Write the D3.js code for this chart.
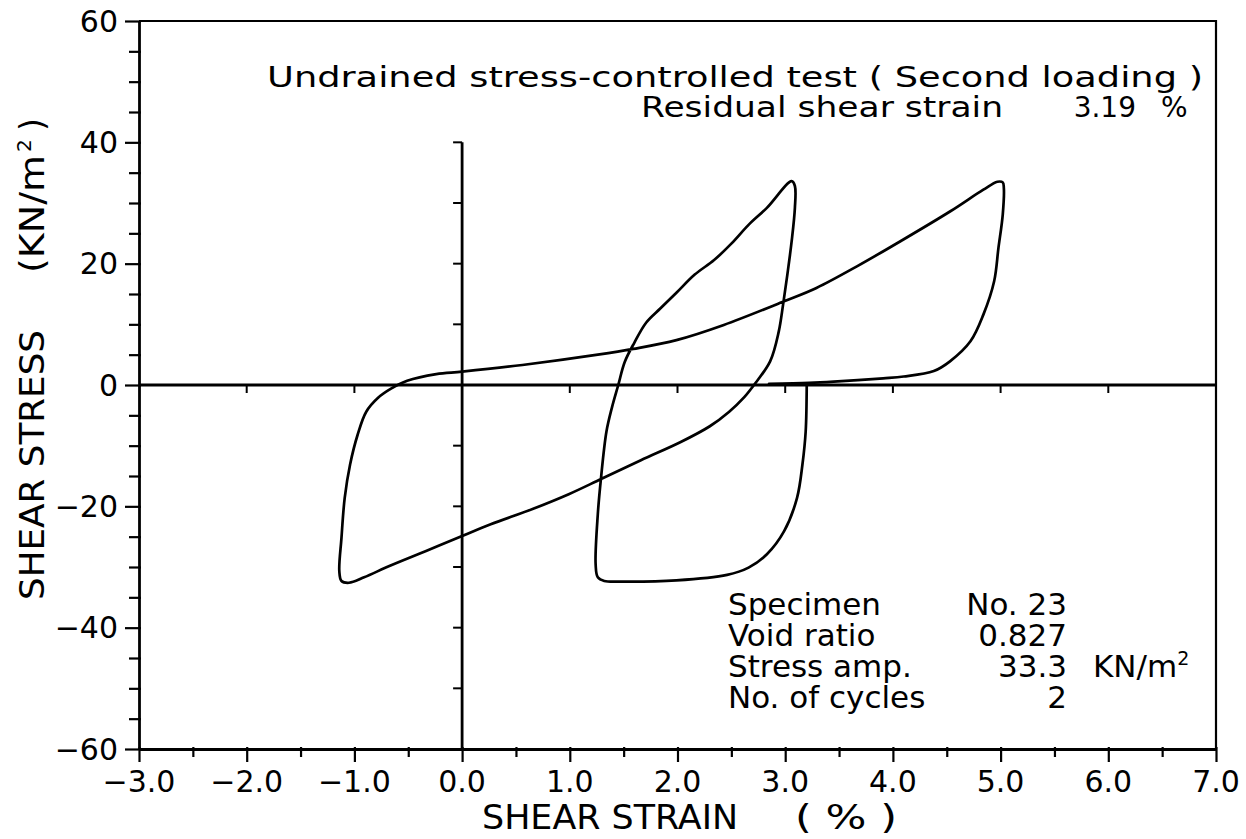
<!DOCTYPE html>
<html>
<head>
<meta charset="utf-8">
<script src="https://cdn.jsdelivr.net/npm/d3@7"></script>
<style>
  html, body { margin: 0; padding: 0; background: #fff; }
  svg { display: block; }
  text { font-family: "DejaVu Sans", "Liberation Sans", sans-serif; fill: #000; }
</style>
</head>
<body>
<svg id="chart" width="1246" height="839"></svg>
<script>
// Hysteresis record: shear strain (%) vs shear stress (kN/m2), in loading order.
// Starts at zero stress, loads negative, then two full swings, and returns to zero stress.
const strainPath = [
  3.20, 3.19, 3.16, 3.11, 2.99, 2.83, 2.66, 2.46, 1.99, 1.49, 1.32, 1.26, 1.24, 1.26, 1.29, 1.34,
  1.39, 1.45, 1.51, 1.60, 1.71, 1.84, 1.99, 2.16, 2.34, 2.50, 2.66, 2.83, 3.06, 3.09, 3.09, 3.06,
  3.02, 2.98, 2.94, 2.86, 2.71, 2.62, 2.48, 2.30, 2.03, 1.66, 1.29, 0.99, 0.66, 0.26, 0.00, -0.34,
  -0.67, -0.91, -1.05, -1.12, -1.14, -1.12, -1.09, -1.04, -0.97, -0.89, -0.78, -0.66, -0.51, -0.24,
  0.00, 0.56, 1.26, 1.59, 1.99, 2.43, 2.99, 3.29, 3.67, 4.07, 4.53, 4.84, 4.97, 5.02, 5.03, 5.02,
  4.98, 4.94, 4.84, 4.72, 4.53, 4.38, 4.10, 3.91, 3.45, 3.22, 2.85
];
const stressPath = [
  0.2, -7.7, -13.1, -18.6, -24.1, -27.9, -30.1, -31.3, -32.2, -32.4, -32.3, -31.7, -29.6, -21.3, -15.3, -7.7,
  -3.8, 0.0, 3.8, 7.0, 10.3, 12.6, 15.2, 18.2, 20.6, 23.3, 26.4, 29.2, 33.6, 32.8, 29.2, 23.7,
  18.2, 13.2, 8.8, 3.9, 0.0, -2.0, -4.4, -6.8, -9.4, -12.4, -15.5, -18.0, -20.4, -23.0, -24.9, -27.4,
  -29.8, -31.7, -32.6, -32.3, -30.7, -25.2, -18.6, -13.1, -8.2, -4.4, -2.1, -0.6, 0.7, 1.8,
  2.2, 3.3, 5.0, 5.95, 7.4, 9.9, 13.8, 16.0, 19.6, 23.7, 28.6, 32.2, 33.5, 33.4, 32.5, 28.1,
  22.6, 17.1, 11.6, 7.2, 3.9, 2.3, 1.4, 1.1, 0.55, 0.35, 0.2
];

const xDomain = [-3, 7];
const yDomain = [-60, 60];
const xTickLabels = [-3, -2, -1, 0, 1, 2, 3, 4, 5, 6, 7];
const yTickLabels = [-60, -40, -20, 0, 20, 40, 60];
const innerXTicks = [-2, -1, 1, 2, 3, 4, 5, 6];
const innerYTicks = [-50, -40, -30, -20, -10, 10, 20, 30, 40];
const innerYTop = 40;

const headerLine1 = "Undrained stress-controlled test  ( Second loading )";
const headerLine2 = "Residual shear strain";
const residualStrain = ["3.19", "%"];
const infoLabels = ["Specimen", "Void ratio", "Stress amp.", "No. of cycles"];
const infoValues = ["No. 23", "0.827", "33.3", "2"];
const xTitle = ["SHEAR  STRAIN", "(  %  )"];
const yTitle = ["SHEAR  STRESS", "(KN/m", "2", ")"];

const svg = d3.select("#chart");
const plot = { left: 139, right: 1216, top: 21, bottom: 749 };

const x = d3.scaleLinear().domain(xDomain).range([plot.left, plot.right]);
const y = d3.scaleLinear().domain(yDomain).range([plot.bottom, plot.top]);

const axisStroke = 2.8;

// frame: top and right edges
svg.append("path")
  .attr("d", `M${plot.left},${plot.top}H${plot.right}V${plot.bottom}`)
  .attr("fill", "none").attr("stroke", "#000").attr("stroke-width", 2.2);

// left axis with ticks every 5
const yAxis = d3.axisLeft(y)
  .tickValues(d3.range(-60, 61, 5))
  .tickSizeOuter(0)
  .tickFormat(() => "");
const gy = svg.append("g").attr("transform", `translate(${plot.left},0)`).call(yAxis);
gy.select(".domain").attr("stroke-width", axisStroke);
gy.selectAll(".tick line")
  .attr("stroke-width", 2.2)
  .attr("x1", 2)
  .attr("x2", d => (d % 20 === 0 ? -14 : -10));

// y tick labels
svg.append("g").selectAll("text").data(yTickLabels).join("text")
  .attr("x", plot.left - 21)
  .attr("y", d => y(d))
  .attr("dy", "0.36em")
  .attr("text-anchor", "end")
  .attr("font-size", 30)
  .text(d => d3.format("d")(d).replace("-", "\u2212"));

// bottom axis with ticks every 0.5
const xAxis = d3.axisBottom(x)
  .tickValues(d3.range(-3, 7.01, 0.5))
  .tickSizeOuter(0)
  .tickFormat(() => "");
const gx = svg.append("g").attr("transform", `translate(0,${plot.bottom})`).call(xAxis);
gx.select(".domain").attr("stroke-width", axisStroke);
gx.selectAll(".tick line")
  .attr("stroke-width", 2.2)
  .attr("y1", -2)
  .attr("y2", d => (Math.abs(d - Math.round(d)) < 1e-6 ? 13 : 8));

// x tick labels
svg.append("g").selectAll("text").data(xTickLabels).join("text")
  .attr("x", d => x(d))
  .attr("y", 792)
  .attr("text-anchor", "middle")
  .attr("font-size", 30)
  .text(d => d3.format(".1f")(d));

// inner zero axes
svg.append("line")
  .attr("x1", plot.left).attr("x2", plot.right)
  .attr("y1", y(0)).attr("y2", y(0))
  .attr("stroke", "#000").attr("stroke-width", axisStroke);
svg.append("g").selectAll("line").data(innerXTicks).join("line")
  .attr("x1", d => x(d)).attr("x2", d => x(d))
  .attr("y1", y(0)).attr("y2", y(0) + 8)
  .attr("stroke", "#000").attr("stroke-width", 2);

svg.append("line")
  .attr("x1", x(0)).attr("x2", x(0))
  .attr("y1", y(innerYTop)).attr("y2", plot.bottom)
  .attr("stroke", "#000").attr("stroke-width", axisStroke);
svg.append("g").selectAll("line").data(innerYTicks).join("line")
  .attr("x1", x(0)).attr("x2", x(0) - 9)
  .attr("y1", d => y(d)).attr("y2", d => y(d))
  .attr("stroke", "#000").attr("stroke-width", 2);

// hysteresis curve
const pts = strainPath.map((s, i) => [s, stressPath[i]]);
const line = d3.line()
  .x(d => x(d[0]))
  .y(d => y(d[1]))
  .curve(d3.curveCatmullRom.alpha(0.5));
svg.append("path")
  .datum(pts)
  .attr("d", line)
  .attr("fill", "none")
  .attr("stroke", "#000")
  .attr("stroke-width", 2.7)
  .attr("stroke-linejoin", "round")
  .attr("stroke-linecap", "round");

// header text
svg.append("text")
  .attr("x", 267).attr("y", 87)
  .attr("font-size", 28)
  .attr("textLength", 936).attr("lengthAdjust", "spacingAndGlyphs")
  .text(headerLine1);
svg.append("text")
  .attr("x", 641).attr("y", 117)
  .attr("font-size", 28)
  .attr("textLength", 362).attr("lengthAdjust", "spacingAndGlyphs")
  .text(headerLine2);
svg.append("text")
  .attr("x", 1136).attr("y", 117)
  .attr("text-anchor", "end")
  .attr("font-size", 28)
  .text(residualStrain[0]);
svg.append("text")
  .attr("x", 1161).attr("y", 117)
  .attr("font-size", 28)
  .text(residualStrain[1]);

// specimen information block
const infoTop = 615, infoStep = 31;
svg.append("g").selectAll("text").data(infoLabels).join("text")
  .attr("x", 728)
  .attr("y", (d, i) => infoTop + i * infoStep)
  .attr("font-size", 31)
  .text(d => d);
svg.append("g").selectAll("text").data(infoValues).join("text")
  .attr("x", 1067)
  .attr("y", (d, i) => infoTop + i * infoStep)
  .attr("text-anchor", "end")
  .attr("font-size", 31)
  .text(d => d);
const unit = svg.append("text")
  .attr("x", 1093).attr("y", infoTop + 2 * infoStep)
  .attr("font-size", 31);
unit.append("tspan").text("KN/m");
unit.append("tspan").attr("dy", -12).attr("font-size", 19).text("2");

// x axis title
svg.append("text")
  .attr("x", 482).attr("y", 829)
  .attr("font-size", 33)
  .attr("textLength", 256).attr("lengthAdjust", "spacingAndGlyphs")
  .text(xTitle[0]);
svg.append("text")
  .attr("x", 795).attr("y", 829)
  .attr("font-size", 33)
  .attr("textLength", 102).attr("lengthAdjust", "spacingAndGlyphs")
  .text(xTitle[1]);

// y axis title (rotated, reading upward)
svg.append("text")
  .attr("transform", "translate(44,600) rotate(-90)")
  .attr("font-size", 33)
  .attr("textLength", 270).attr("lengthAdjust", "spacingAndGlyphs")
  .text(yTitle[0]);
const yUnit = svg.append("g").attr("transform", "translate(44,273) rotate(-90)");
yUnit.append("text").attr("x", 0).attr("font-size", 33)
  .attr("textLength", 118).attr("lengthAdjust", "spacingAndGlyphs")
  .text(yTitle[1]);
yUnit.append("text").attr("x", 121).attr("y", -13).attr("font-size", 20).text(yTitle[2]);
yUnit.append("text").attr("x", 142).attr("font-size", 33).text(yTitle[3]);
</script>
</body>
</html>
